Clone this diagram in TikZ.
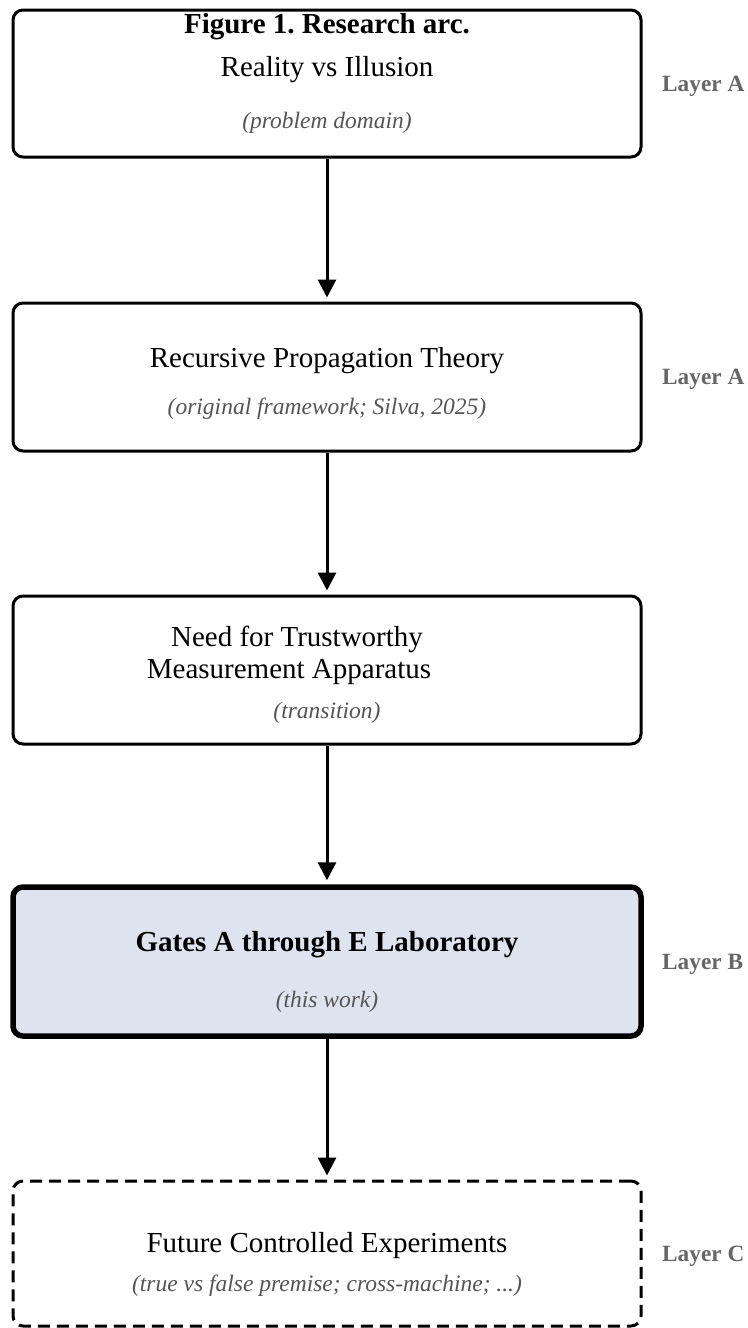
\documentclass[tikz,border=0pt]{standalone}
\usepackage{fontspec}
\setmainfont{Liberation Serif}
\usetikzlibrary{arrows.meta}
\frenchspacing
\definecolor{subgray}{HTML}{555555}
\definecolor{laygray}{HTML}{666666}
\definecolor{labfill}{HTML}{DDE4EF}
\tikzset{
  stagebox/.style={draw=black, line width=3pt, rounded corners=10pt,
    minimum width=628pt, inner sep=0pt, fill=white},
  keybox/.style={stagebox, line width=5.5pt, fill=labfill},
  futurebox/.style={stagebox, dash pattern=on 12pt off 7pt},
  maintext/.style={font=\fontsize{29}{33}\selectfont, inner sep=0pt, anchor=base},
  boldtext/.style={maintext, font=\fontsize{29}{33}\selectfont\bfseries},
  subtext/.style={font=\fontsize{23.5}{27}\selectfont\itshape, text=subgray, inner sep=0pt, anchor=base},
  layertext/.style={font=\fontsize{23.3}{26}\selectfont\bfseries, text=laygray, inner sep=0pt, anchor=base west},
  flow/.style={line width=3pt, -{Triangle[width=18pt,length=18pt]}, shorten >=4pt}
}
\begin{document}
\begin{tikzpicture}[x=1pt,y=-1pt]
\useasboundingbox (0,0) rectangle (747,1328);
% boxes
\node[stagebox, minimum height=147pt] (b1) at (327,83.5) {};
\node[stagebox, minimum height=148pt] (b2) at (327,377) {};
\node[stagebox, minimum height=148pt] (b3) at (327,670) {};
\node[keybox, minimum height=149pt] (b4) at (327,961.5) {};
\node[futurebox, minimum height=145pt] (b5) at (327,1253.5) {};
% texts
\node[boldtext] (t1h) at (327,33) {Figure 1. Research arc.};
\node[maintext] (t1m) at (327,76) {Reality vs Illusion};
\node[subtext] (t1s) at (327,128) {(problem domain)};
\node[maintext] (t2m) at (327,367) {Recursive Propagation Theory};
\node[subtext] (t2s) at (327,414) {(original framework; Silva, 2025)};
\node[maintext] (t3a) at (297,646) {Need for Trustworthy};
\node[maintext] (t3b) at (289,678) {Measurement Apparatus};
\node[subtext] (t3s) at (327,718) {(transition)};
\node[boldtext] (t4m) at (327,951) {Gates A through E Laboratory};
\node[subtext] (t4s) at (327,1007) {(this work)};
\node[maintext] (t5m) at (327,1252) {Future Controlled Experiments};
\node[subtext] (t5s) at (327,1291) {(true vs false premise; cross-machine; ...)};
% layer labels
\node[layertext] (l1) at (662,91) {Layer A};
\node[layertext] (l2) at (662,384) {Layer A};
\node[layertext] (l4) at (662,969) {Layer B};
\node[layertext] (l5) at (662,1261) {Layer C};
% arrows
\draw[flow] (b1.south) -- (b2.north);
\draw[flow] (b2.south) -- (b3.north);
\draw[flow] (b3.south) -- (b4.north);
\draw[flow] (b4.south) -- (b5.north);
\end{tikzpicture}
\end{document}
